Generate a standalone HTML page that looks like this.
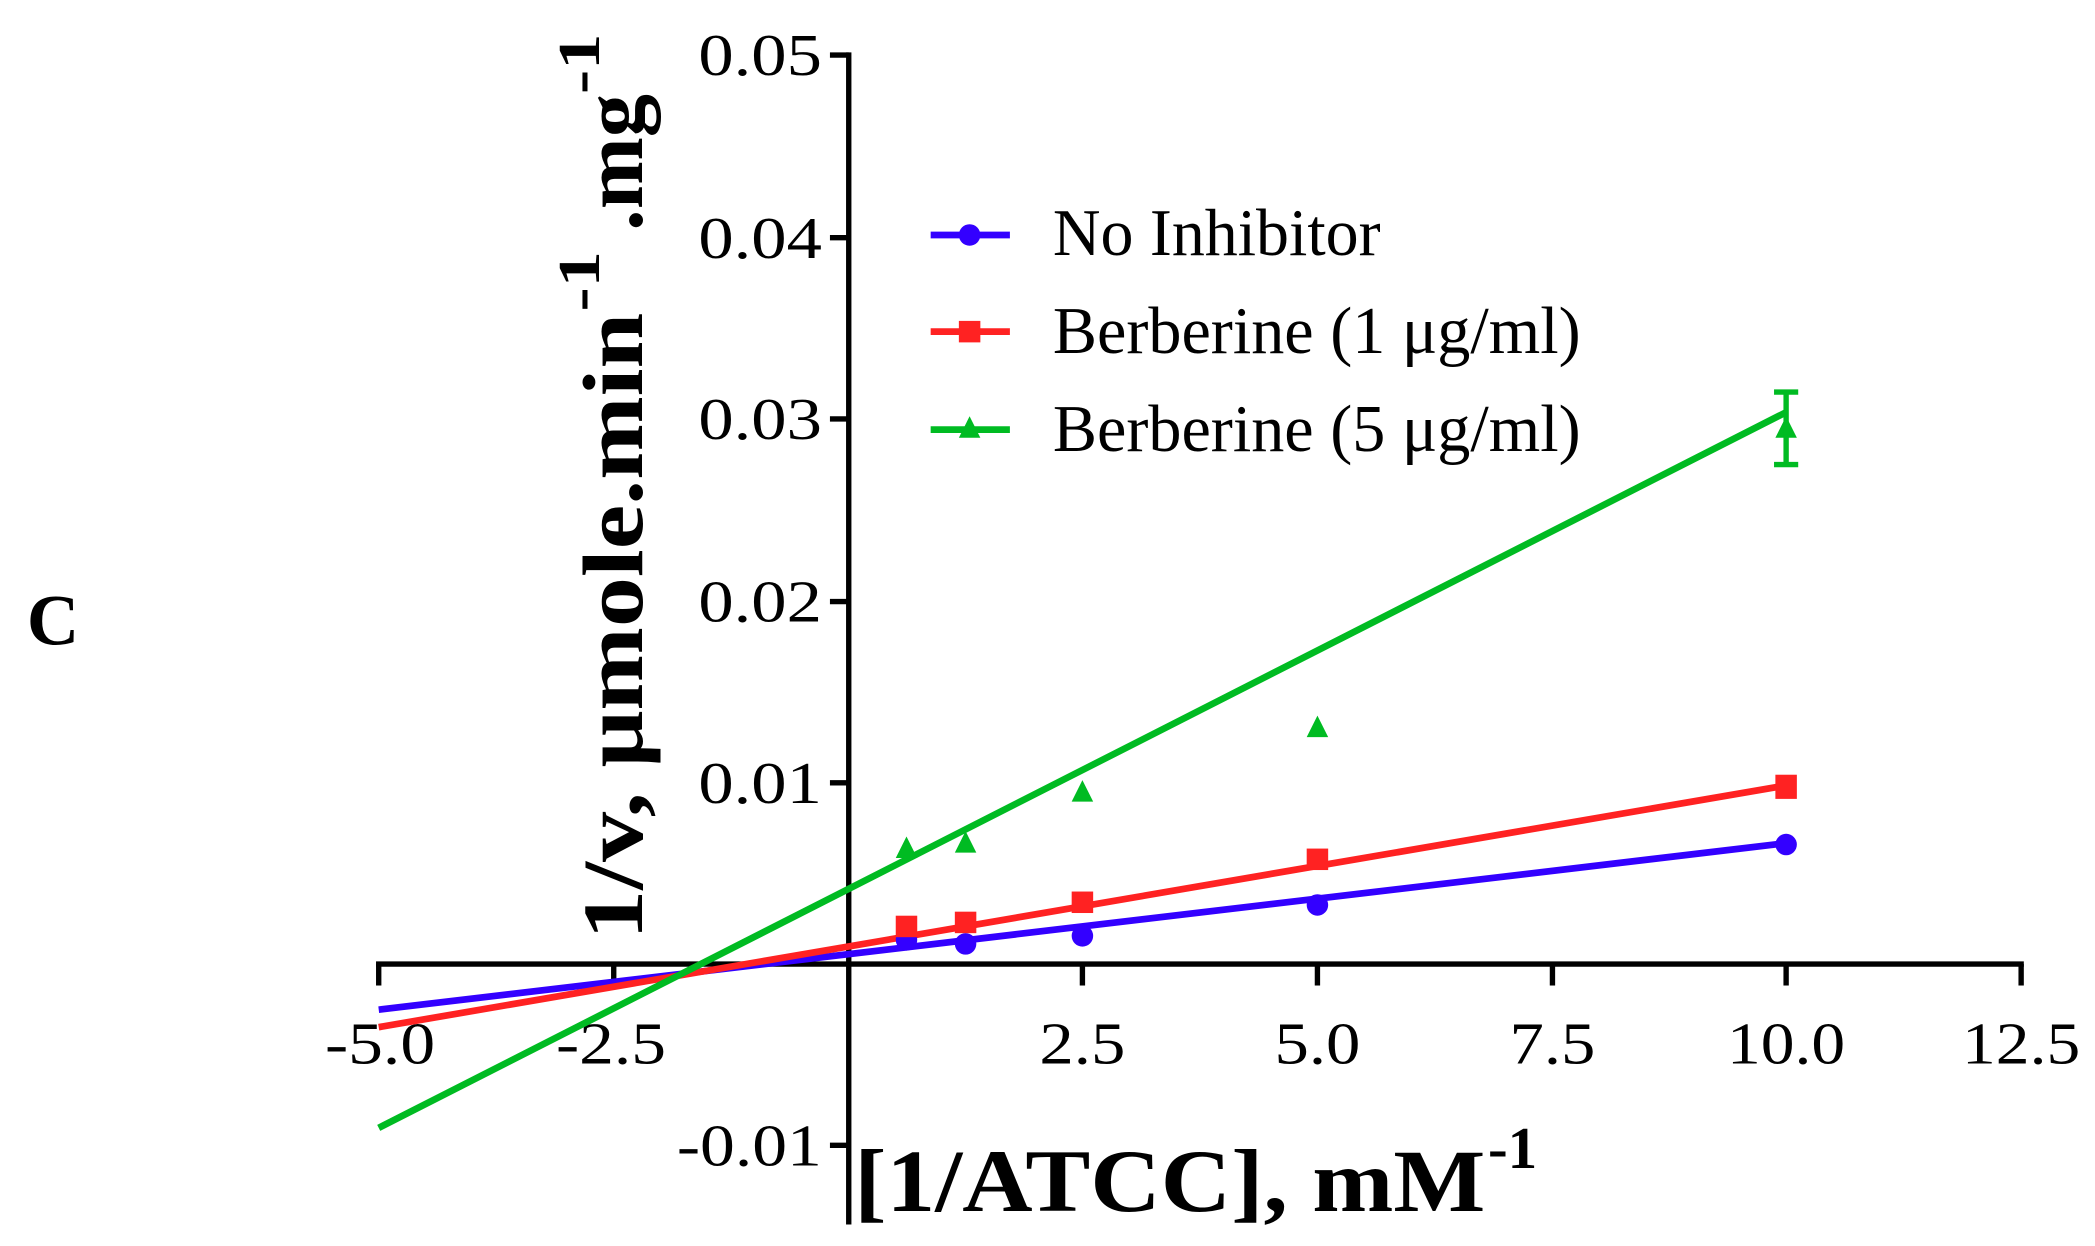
<!DOCTYPE html>
<html><head><meta charset="utf-8"><style>
html,body{margin:0;padding:0;background:#fff;}
svg{display:block;}
text{font-family:"Liberation Serif",serif;fill:#000;}
</style></head><body>
<svg width="2095" height="1246" viewBox="0 0 1560 928" preserveAspectRatio="none" xmlns="http://www.w3.org/2000/svg">
<line x1="280" y1="718" x2="1507" y2="718" stroke="#000" stroke-width="4"/>
<line x1="632" y1="39" x2="632" y2="912" stroke="#000" stroke-width="4"/>
<g stroke="#000" stroke-width="4">
<line x1="282" y1="718" x2="282" y2="734"/>
<line x1="457" y1="718" x2="457" y2="734"/>
<line x1="806" y1="718" x2="806" y2="734"/>
<line x1="981" y1="718" x2="981" y2="734"/>
<line x1="1156" y1="718" x2="1156" y2="734"/>
<line x1="1330" y1="718" x2="1330" y2="734"/>
<line x1="1505" y1="718" x2="1505" y2="734"/>
<line x1="618" y1="41" x2="632" y2="41"/>
<line x1="618" y1="177" x2="632" y2="177"/>
<line x1="618" y1="312" x2="632" y2="312"/>
<line x1="618" y1="448" x2="632" y2="448"/>
<line x1="618" y1="583" x2="632" y2="583"/>
<line x1="618" y1="853" x2="632" y2="853"/>
</g>
<g font-size="44" text-anchor="middle">
<text x="283" y="792" textLength="82" lengthAdjust="spacingAndGlyphs">-5.0</text>
<text x="455" y="792" textLength="82" lengthAdjust="spacingAndGlyphs">-2.5</text>
<text x="806" y="792" textLength="64" lengthAdjust="spacingAndGlyphs">2.5</text>
<text x="981" y="792" textLength="64" lengthAdjust="spacingAndGlyphs">5.0</text>
<text x="1156" y="792" textLength="64" lengthAdjust="spacingAndGlyphs">7.5</text>
<text x="1330" y="792" textLength="88" lengthAdjust="spacingAndGlyphs">10.0</text>
<text x="1505" y="792" textLength="88" lengthAdjust="spacingAndGlyphs">12.5</text>
</g>
<g font-size="44" text-anchor="end">
<text x="612" y="56" textLength="92" lengthAdjust="spacingAndGlyphs">0.05</text>
<text x="612" y="192" textLength="92" lengthAdjust="spacingAndGlyphs">0.04</text>
<text x="612" y="327" textLength="92" lengthAdjust="spacingAndGlyphs">0.03</text>
<text x="612" y="463" textLength="92" lengthAdjust="spacingAndGlyphs">0.02</text>
<text x="612" y="598" textLength="92" lengthAdjust="spacingAndGlyphs">0.01</text>
<text x="612" y="868" textLength="108" lengthAdjust="spacingAndGlyphs">-0.01</text>
</g>
<text x="636" y="902" font-size="66" font-weight="bold" textLength="470" lengthAdjust="spacingAndGlyphs">[1/ATCC], mM</text>
<text x="1108" y="870" font-size="44" font-weight="bold">-1</text>
<text transform="translate(478,700) rotate(-90)" font-size="64" font-weight="bold" textLength="467" lengthAdjust="spacingAndGlyphs">1/v, μmole.min</text>
<text transform="translate(446,232) rotate(-90)" font-size="44" font-weight="bold" textLength="45" lengthAdjust="spacingAndGlyphs">-1</text>
<text transform="translate(478,172) rotate(-90)" font-size="64" font-weight="bold" textLength="102" lengthAdjust="spacingAndGlyphs">.mg</text>
<text transform="translate(446,70) rotate(-90)" font-size="44" font-weight="bold" textLength="45" lengthAdjust="spacingAndGlyphs">-1</text>
<text x="20" y="480" font-size="54" font-weight="bold">C</text>
<line x1="282" y1="752" x2="1330" y2="628" stroke="#3300ff" stroke-width="5"/>
<line x1="282" y1="765" x2="1330" y2="585" stroke="#ff2222" stroke-width="5"/>
<line x1="282" y1="840" x2="1330" y2="307" stroke="#00bb22" stroke-width="5"/>
<g fill="#3300ff">
<circle cx="675" cy="700" r="8"/><circle cx="719" cy="703" r="8"/><circle cx="806" cy="697" r="8"/><circle cx="981" cy="674" r="8"/><circle cx="1330" cy="629" r="8"/>
</g>
<g fill="#ff2222">
<rect x="667" y="682" width="16" height="16"/><rect x="711" y="679" width="16" height="16"/><rect x="798" y="664" width="16" height="16"/><rect x="973" y="632" width="16" height="16"/><rect x="1322" y="577" width="16" height="18"/>
</g>
<g fill="#00bb22">
<polygon points="675,623 667,639 683,639"/><polygon points="719,619 711,635 727,635"/><polygon points="806,581 798,597 814,597"/><polygon points="981,533 973,549 989,549"/><polygon points="1330,310 1322,326 1338,326"/>
</g>
<g stroke="#00bb22" stroke-width="4">
<line x1="1330" y1="292" x2="1330" y2="346"/><line x1="1321" y1="292" x2="1339" y2="292"/><line x1="1321" y1="346" x2="1339" y2="346"/>
</g>
<line x1="693" y1="175" x2="752" y2="175" stroke="#3300ff" stroke-width="5"/>
<circle cx="722" cy="175" r="8" fill="#3300ff"/>
<line x1="693" y1="247" x2="752" y2="247" stroke="#ff2222" stroke-width="5"/>
<rect x="714" y="239" width="16" height="16" fill="#ff2222"/>
<line x1="693" y1="320" x2="752" y2="320" stroke="#00bb22" stroke-width="5"/>
<polygon points="722,310 714,326 730,326" fill="#00bb22"/>
<g font-size="50">
<text x="784" y="190" textLength="244" lengthAdjust="spacingAndGlyphs">No Inhibitor</text>
<text x="784" y="263" textLength="393" lengthAdjust="spacingAndGlyphs">Berberine (1 μg/ml)</text>
<text x="784" y="336" textLength="393" lengthAdjust="spacingAndGlyphs">Berberine (5 μg/ml)</text>
</g>
</svg>
</body></html>
